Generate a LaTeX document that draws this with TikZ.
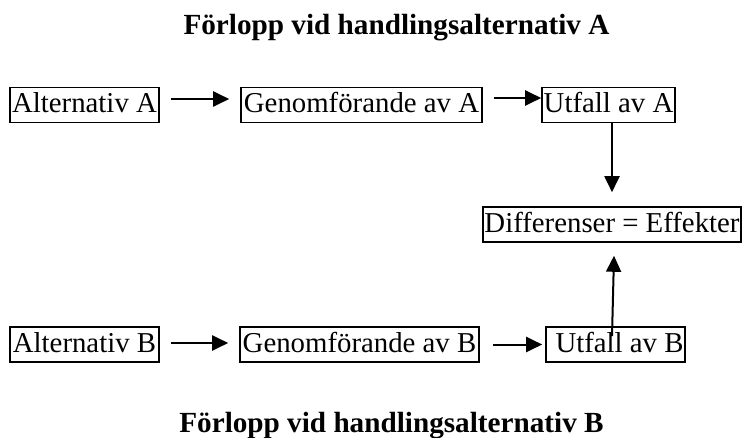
\documentclass[tikz,border=0pt]{standalone}
\usepackage{fontspec}
\setmainfont{Liberation Serif}
\usetikzlibrary{arrows.meta}

\tikzset{
  box/.style={draw, line width=1.6pt, inner xsep=0pt, inner ysep=0pt,
    minimum height=35pt, text height=19pt, text depth=4pt,
    font=\fontsize{28.8}{34}\selectfont},
  flow/.style={line width=2pt, -{Triangle[length=16pt,width=15pt]}},
  heading/.style={anchor=base, inner sep=0pt,
    font=\fontsize{29.2}{35}\selectfont\bfseries}
}

\begin{document}
\begin{tikzpicture}[x=1pt, y=-1pt]
  \useasboundingbox (0,0) rectangle (743,438);

  % headings
  \node[heading] (headA) at (396.5,35) {Förlopp vid handlingsalternativ A};
  \node[heading] (headB) at (391.5,432) {Förlopp vid handlingsalternativ B};

  % upper chain
  \node[box, minimum width=149pt] (altA) at (84.5,105) {Alternativ A};
  \node[box, minimum width=241pt] (genA) at (361.5,105) {Genomförande av A};
  \node[box, minimum width=133pt] (utfA) at (608.5,105) {Utfall av A};

  % result
  \node[box, minimum width=258pt] (diff) at (612,224.5) {Differenser = Effekter};

  % lower chain
  \node[box, minimum width=149pt] (altB) at (84.5,344.5) {Alternativ B};
  \node[box, minimum width=239pt] (genB) at (359.5,344.5) {Genomförande av B};
  \node[box, minimum width=139pt] (utfB) at (615.5,344.5) {\hspace*{8pt}Utfall av B};

  % connectors
  \draw[flow] ([xshift=11pt,yshift=6pt]altA.east) -- ([xshift=-11pt,yshift=6pt]genA.west);
  \draw[flow] ([xshift=11pt,yshift=7pt]genA.east) -- ([yshift=7pt]utfA.west);
  \draw[flow] ([xshift=3.5pt]utfA.south) -- ([yshift=14pt]diff.north);

  \draw[flow] ([xshift=11pt,yshift=1.5pt]altB.east) -- ([xshift=-11pt,yshift=1.5pt]genB.west);
  \draw[flow] ([xshift=13pt]genB.east) -- ([xshift=-3pt]utfB.west);
  \draw[flow] ([xshift=-3.5pt,yshift=-10pt]utfB.north) -- ([xshift=2pt,yshift=-13pt]diff.south);
\end{tikzpicture}
\end{document}
